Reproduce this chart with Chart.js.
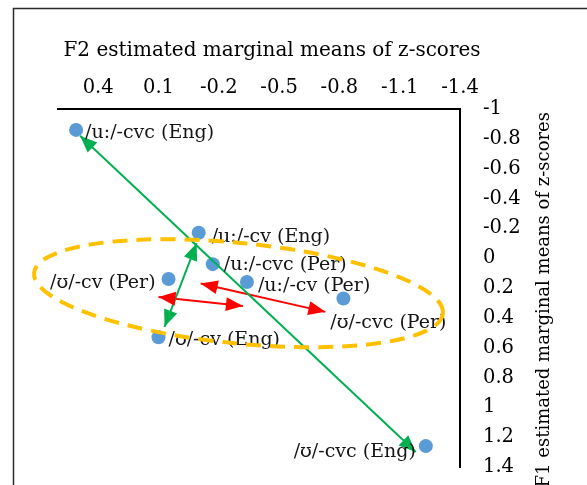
<!DOCTYPE html>
<html>
<head>
<meta charset="utf-8">
<script src="https://cdn.jsdelivr.net/npm/chart.js@4.4.1/dist/chart.umd.min.js"></script>
<style>
  html, body { margin: 0; padding: 0; background: #ffffff; overflow: hidden; }
  #wrap { position: relative; width: 587px; height: 485px; }
</style>
</head>
<body>
<div id="wrap"><canvas id="vowelChart" width="587" height="485"></canvas></div>
<script>
// Vowel categories and their estimated marginal means (z-scores)
const vowelLabels = ['/u:/-cvc (Eng)', '/u:/-cv (Eng)', '/u:/-cvc (Per)', '/ʊ/-cv (Per)',
                     '/u:/-cv (Per)', '/ʊ/-cvc (Per)', '/ʊ/-cv (Eng)', '/ʊ/-cvc (Eng)'];
const f2Means = [0.51, -0.10, -0.17, 0.05, -0.34, -0.82, 0.10, -1.23];
const f1Means = [-0.86, -0.17, 0.04, 0.14, 0.16, 0.27, 0.53, 1.26];

// Axis ticks
const f2Ticks = [0.4, 0.1, -0.2, -0.5, -0.8, -1.1, -1.4];
const f1Ticks = [-1, -0.8, -0.6, -0.4, -0.2, 0, 0.2, 0.4, 0.6, 0.8, 1, 1.2, 1.4];

// Double-headed arrows (F2, F1 of each end)
const engArrowStart = [[0.49, -0.82], [-0.09, -0.10]];
const engArrowEnd   = [[-1.18, 1.30], [0.07, 0.46]];
const perArrowStart = [[0.10, 0.26], [-0.11, 0.17]];
const perArrowEnd   = [[-0.32, 0.32], [-0.73, 0.36]];

// Grouping ellipse: centre (F2, F1) and half-axes in axis units
const groupCentre = [-0.298, 0.235];
const groupHalfAxes = [1.022, 0.337];

const SERIF = '"DejaVu Serif", "Liberation Serif", serif';

// Where each point label sits relative to its marker
const labelPlacement = [
  { dx: 9,   dy: 3,  align: 'left' },
  { dx: 13,  dy: 4,  align: 'left' },
  { dx: 11,  dy: 1,  align: 'left' },
  { dx: -13, dy: 4,  align: 'right' },
  { dx: 11,  dy: 4,  align: 'left' },
  { dx: 45,  dy: 25, align: 'center' },
  { dx: 10,  dy: 3,  align: 'left' },
  { dx: -10, dy: 6,  align: 'right' }
];

const pointData = f2Means.map((x, i) => ({ x: x, y: f1Means[i] }));

function arrowDataset(start, end, colour) {
  return {
    type: 'scatter',
    data: [{ x: start[0], y: start[1] }, { x: end[0], y: end[1] }],
    showLine: true,
    borderColor: colour,
    borderWidth: 2,
    pointRadius: 0,
    pointHoverRadius: 0,
    order: 1,
    isArrow: true
  };
}

const arrowSets = [];
engArrowStart.forEach((s, i) => arrowSets.push(arrowDataset(s, engArrowEnd[i], '#00B050')));
perArrowStart.forEach((s, i) => arrowSets.push(arrowDataset(s, perArrowEnd[i], '#FF0000')));

// Outer frame of the figure
const framePlugin = {
  id: 'frame',
  beforeDraw(chart) {
    const ctx = chart.ctx;
    ctx.save();
    ctx.strokeStyle = '#2b2b2b';
    ctx.lineWidth = 1.5;
    ctx.beginPath();
    ctx.moveTo(13.5, 600);
    ctx.lineTo(13.5, 8.5);
    ctx.lineTo(700, 8.5);
    ctx.stroke();
    ctx.restore();
  }
};

// Axis titles
const axisTitlePlugin = {
  id: 'axisTitles',
  afterDraw(chart) {
    const ctx = chart.ctx;
    ctx.save();
    ctx.fillStyle = '#000000';
    ctx.textBaseline = 'middle';
    ctx.font = '20px ' + SERIF;
    ctx.textAlign = 'center';
    ctx.fillText('F2 estimated marginal means of z-scores', 272, 51);
    ctx.font = '18px ' + SERIF;
    ctx.translate(544, 112);
    ctx.rotate(-Math.PI / 2);
    ctx.textAlign = 'right';
    ctx.fillText('F1 estimated marginal means of z-scores', 0, 0);
    ctx.restore();
  }
};

// Arrow heads on both ends of every arrow line
const arrowHeadPlugin = {
  id: 'arrowHeads',
  afterDatasetsDraw(chart) {
    const ctx = chart.ctx;
    chart.data.datasets.forEach((ds, di) => {
      if (!ds.isArrow) return;
      const pts = chart.getDatasetMeta(di).data;
      const a = pts[0], b = pts[1];
      const head = (tip, from) => {
        const ang = Math.atan2(tip.y - from.y, tip.x - from.x);
        const len = 17, half = 7;
        ctx.save();
        ctx.translate(tip.x, tip.y);
        ctx.rotate(ang);
        ctx.fillStyle = ds.borderColor;
        ctx.beginPath();
        ctx.moveTo(0, 0);
        ctx.lineTo(-len, -half);
        ctx.lineTo(-len, half);
        ctx.closePath();
        ctx.fill();
        ctx.restore();
      };
      head(a, b);
      head(b, a);
    });
  }
};

// Point labels and the dashed grouping ellipse
const annotationPlugin = {
  id: 'pointLabels',
  afterDatasetsDraw(chart) {
    const ctx = chart.ctx;
    const meta = chart.getDatasetMeta(0);
    ctx.save();
    ctx.font = '19px ' + SERIF;
    ctx.fillStyle = '#151515';
    ctx.textBaseline = 'middle';
    meta.data.forEach((pt, i) => {
      const p = labelPlacement[i];
      ctx.textAlign = p.align;
      ctx.fillText(vowelLabels[i], pt.x + p.dx, pt.y + p.dy);
    });
    ctx.restore();

    const xs = chart.scales.x, ys = chart.scales.y;
    const cx = xs.getPixelForValue(groupCentre[0]);
    const cy = ys.getPixelForValue(groupCentre[1]);
    const rx = Math.abs(xs.getPixelForValue(groupCentre[0] + groupHalfAxes[0]) - cx);
    const ry = Math.abs(ys.getPixelForValue(groupCentre[1] + groupHalfAxes[1]) - cy);
    ctx.save();
    ctx.strokeStyle = '#FFC000';
    ctx.lineWidth = 4;
    ctx.setLineDash([15, 9]);
    ctx.beginPath();
    ctx.ellipse(cx, cy, rx, ry, 5.7 * Math.PI / 180, 0, Math.PI * 2);
    ctx.stroke();
    ctx.restore();
  }
};

function fixBox(size) {
  return function (scale) {
    if (scale.isHorizontal()) scale.height = size; else scale.width = size;
    scale.paddingTop = 0;
    scale.paddingBottom = 0;
    scale.paddingLeft = 0;
    scale.paddingRight = 0;
  };
}

new Chart(document.getElementById('vowelChart'), {
  type: 'scatter',
  data: {
    datasets: [{
      data: pointData,
      backgroundColor: '#5B9BD5',
      borderColor: '#5B9BD5',
      pointRadius: 7,
      pointHoverRadius: 7,
      borderWidth: 0,
      order: 2
    }].concat(arrowSets)
  },
  options: {
    responsive: false,
    animation: false,
    events: [],
    layout: { padding: { left: 58, top: 0, right: 0, bottom: 18 } },
    plugins: { legend: { display: false }, tooltip: { enabled: false } },
    scales: {
      x: {
        type: 'linear',
        position: 'top',
        min: -1.4,
        max: 0.6,
        reverse: true,
        afterBuildTicks(scale) { scale.ticks = f2Ticks.map(v => ({ value: v })); },
        afterFit: fixBox(109),
        grid: { display: false, drawTicks: false },
        border: { display: true, color: '#000000', width: 2 },
        ticks: {
          autoSkip: false,
          maxRotation: 0,
          padding: 9,
          color: '#000000',
          font: { family: SERIF, size: 19.5 },
          callback: v => String(v)
        }
      },
      y: {
        type: 'linear',
        position: 'right',
        min: -1,
        max: 1.4,
        reverse: true,
        afterBuildTicks(scale) { scale.ticks = f1Ticks.map(v => ({ value: v })); },
        afterFit: fixBox(127),
        grid: { display: false, drawTicks: false },
        border: { display: true, color: '#000000', width: 2 },
        ticks: {
          autoSkip: false,
          padding: 23,
          color: '#000000',
          font: { family: SERIF, size: 19.5 },
          callback: v => String(v)
        }
      }
    }
  },
  plugins: [framePlugin, arrowHeadPlugin, annotationPlugin, axisTitlePlugin]
});
</script>
</body>
</html>
